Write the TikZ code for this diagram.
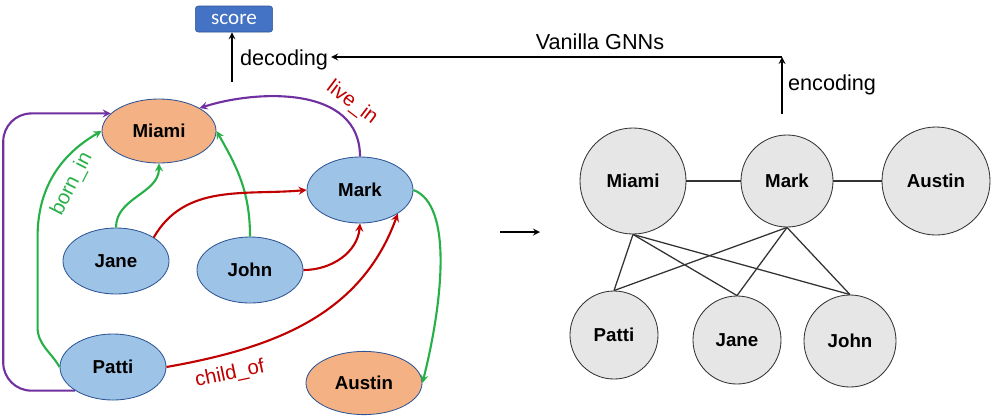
\documentclass[tikz,border=0pt]{standalone}
\usepackage{fontspec}
\setmainfont{Liberation Sans}
\newfontfamily\scorefont{Carlito}
\usepackage{tikz}
\usetikzlibrary{arrows,shapes,calc,positioning}
\definecolor{naranja}{RGB}{244,177,131}
\definecolor{celeste}{RGB}{157,195,230}
\definecolor{azulBorde}{RGB}{47,85,151}
\definecolor{azulScore}{RGB}{68,114,196}
\definecolor{morado}{RGB}{112,48,160}
\definecolor{verde}{RGB}{40,176,72}
\definecolor{rojo}{RGB}{192,0,0}
\definecolor{grisClaro}{RGB}{231,230,230}
\definecolor{grisOscuro}{RGB}{50,50,50}
\tikzstyle{edge}  =[->, >=stealth, line width=1.5pt]
\tikzstyle{redge} =[line width=0.9pt, grisOscuro]
\tikzstyle{flow}  =[->, >=stealth, line width=1.2pt]
\tikzstyle{lvertex}=[ellipse, draw=azulBorde, fill=celeste,
                    line width=0.6pt, inner sep=0pt,
                    minimum width=2.65cm, minimum height=1.65cm,
                    font=\bfseries\fontsize{13.3}{15}\selectfont]
\tikzstyle{lplace}=[lvertex, fill=naranja,
                    minimum width=2.85cm, minimum height=1.6cm]
\tikzstyle{rvertex}=[circle, draw=grisOscuro, fill=grisClaro,
                    line width=0.6pt, inner sep=0pt,
                    font=\bfseries\fontsize{13.3}{15}\selectfont]
\tikzstyle{rel}   =[inner sep=0pt, font=\fontsize{14.5}{17}\selectfont]
\tikzstyle{flowtext}=[inner sep=2pt, font=\fontsize{15.4}{18}\selectfont]
\begin{document}
\begin{tikzpicture}[x=0.025cm,y=0.025cm]
    \useasboundingbox (0,0) rectangle (992,-416);

    \draw (159,-131) node(lmiami)[lplace]{Miami};
    \draw (360,-190) node(lmark)[lvertex]{Mark};
    \draw (116,-261) node(ljane)[lvertex]{Jane};
    \draw (250,-270) node(ljohn)[lvertex]{John};
    \draw (113,-367) node(lpatti)[lvertex]{Patti};
    \draw (364,-383) node(laustin)[lplace,minimum width=2.9cm,minimum height=1.58cm]{Austin};

    \draw [edge,morado] (lmark.north) .. controls +(0,72) and +(56,18) .. (lmiami.north east);
    \draw [edge,morado,rounded corners=20pt] (lpatti.south west) -- ++(-72,0) |- (lmiami.160);
    \draw [edge,verde] (lpatti.west) to[out=120,in=-90] ++(-22,40) -- ++(0,90)
        to[out=90,in=210] (lmiami.west);
    \draw [edge,verde] (ljane.north) to[out=90,in=-90] (lmiami.south);
    \draw [edge,verde] (ljohn.north) to[out=90,in=-60] (lmiami.east);
    \draw [edge,rojo] (ljane.north east) to[out=60,in=185] (lmark.west);
    \draw [edge,rojo] (ljohn.east) to[out=0,in=-95] (lmark.south);
    \draw [edge,rojo] (lpatti.east) to[out=10,in=-110] (lmark.south east);
    \draw [edge,verde] (lmark.east) .. controls +(40,-15) and +(20,80) .. (laustin.east);

    \draw (352,-103) node(live)[rel,rojo,rotate=-37]{live\_in};
    \draw (72,-184) node(born)[rel,verde,rotate=63]{born\_in};
    \draw (230,-374) node(child)[rel,rojo,rotate=12]{child\_of};

    \draw (633,-181) node(rmiami)[rvertex,minimum size=2.65cm]{Miami};
    \draw (787,-181) node(rmark)[rvertex,minimum size=2.3cm]{Mark};
    \draw (936,-181) node(raustin)[rvertex,minimum size=2.7cm]{Austin};
    \draw (614,-335) node(rpatti)[rvertex,minimum size=2.2cm]{Patti};
    \draw (737,-340) node(rjane)[rvertex,minimum size=2.2cm]{Jane};
    \draw (850,-341) node(rjohn)[rvertex,minimum size=2.3cm]{John};

    \foreach \i/\j in {rmiami/rmark,rmark/raustin}
        \draw [redge] (\i) to (\j);
    \foreach \i in {rmiami,rmark}
        \foreach \j in {rpatti,rjane,rjohn}
            \draw [redge] (\i.south) to (\j.north);

    \draw (234,-19) node(score)[draw=azulBorde,fill=azulScore,rounded corners=2pt,
        minimum width=1.93cm,minimum height=0.65cm,inner sep=0pt,
        text=white,font=\scorefont\fontsize{15}{17}\selectfont]{score};
    \draw (237,-60) node(decoding)[flowtext,anchor=west]{decoding};
    \draw (785,-85) node(encoding)[flowtext,anchor=west]{encoding};
    \draw (600,-42) node(vanilla)[flowtext]{Vanilla GNNs};
    \coordinate (decbot) at (232,-82);
    \coordinate (encbot) at (782,-114);
    \coordinate (encjoin) at (782,-57);
    \coordinate (midA) at (500,-232);
    \coordinate (midB) at (540,-232);

    \draw [flow] (decbot) -- (decbot |- score.south);
    \draw [flow] (encbot) -- (encjoin);
    \draw [flow] (encjoin) -- (encjoin -| decoding.east);
    \draw [flow] (midA) -- (midB);
\end{tikzpicture}
\end{document}
